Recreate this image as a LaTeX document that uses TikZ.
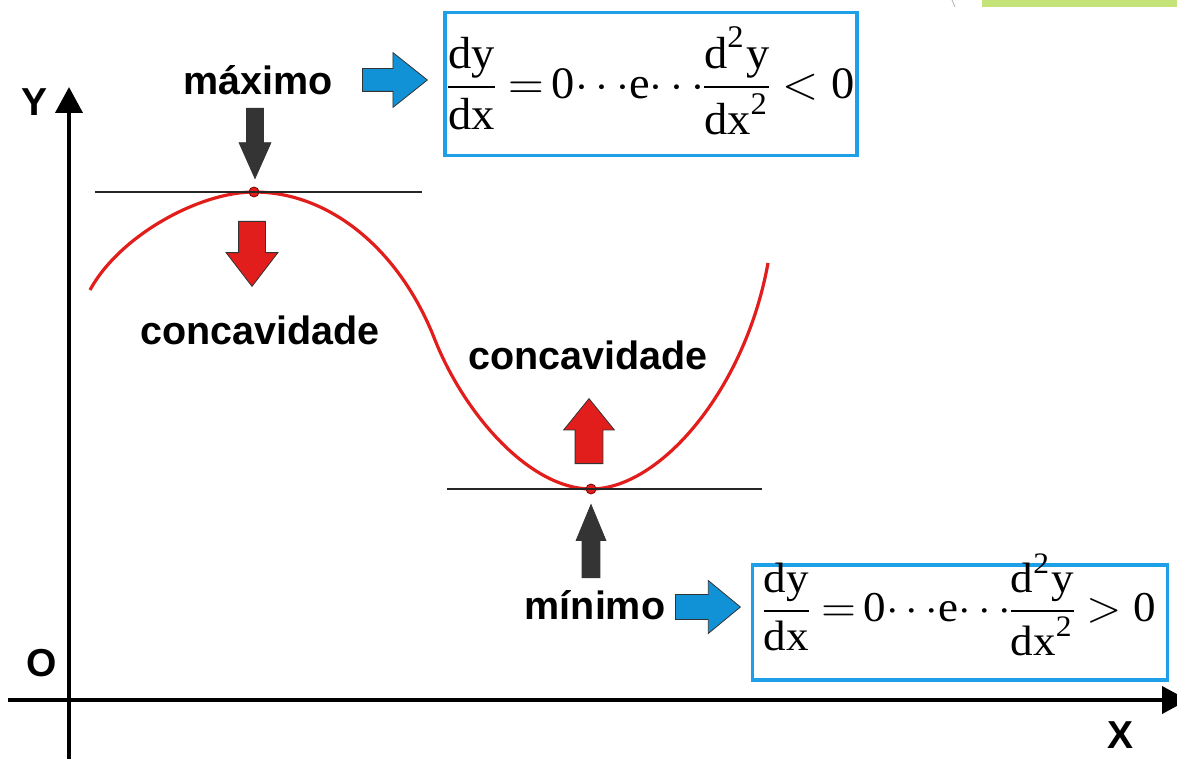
\documentclass[tikz,border=0pt]{standalone}
\usepackage{amsmath}
\usepackage{graphicx}
\usepackage{fontspec}
\setmainfont{Liberation Serif}
\setsansfont{Liberation Sans}
\usepackage{tikz}
\usetikzlibrary{arrows.meta,shapes.arrows}
\definecolor{curveclr}{RGB}{226,30,28}
\definecolor{ptrgray}{RGB}{52,52,52}
\definecolor{ptrblue}{RGB}{18,146,214}
\definecolor{boxblue}{RGB}{30,160,232}
\definecolor{slidegreen}{RGB}{196,228,122}
% #1,#2 = horizontal/vertical scale, #3 = relation
\newcommand{\condfrac}[3]{\scalebox{#1}[#2]{\nulldelimiterspace=0pt$\displaystyle
  \frac{\text{dy}}{\text{dx}}\;{=}\,\text{0}{\cdots}\text{e}{\cdots}
  \frac{\text{d}^{\text{2}}\text{y}}{\text{dx}^{\text{2}}}#3\text{0}$}}
\tikzset{
  axis/.style={line width=4pt,-{Triangle[length=26pt,width=27pt]}},
  axislbl/.style={font=\sffamily\bfseries\fontsize{39}{40}\selectfont,inner sep=0pt},
  lbl/.style={font=\sffamily\bfseries\fontsize{39.5}{40}\selectfont,inner sep=0pt},
  tangent/.style={line width=1.3pt,black!85},
  fcurve/.style={curveclr,line width=3.2pt},
  extremum/.style={circle,fill=curveclr,draw=red!50!black,line width=0.8pt,
                   minimum size=10pt,inner sep=0pt},
  blockarr/.style={single arrow,draw=black!80,line width=0.8pt,inner xsep=0pt,
                   anchor=tail},
  condbox/.style={draw=boxblue,line width=3.5pt,inner sep=0pt},
  cond/.style={inner sep=0pt},
}

\begin{document}
\begin{tikzpicture}[x=1pt, y=-1pt]
\useasboundingbox (0,0) rectangle (1177,759);
\clip (0,0) rectangle (1177,759);

% slide corner
\fill[slidegreen] (982,0) rectangle (1177,7);
\draw[gray!60,line width=0.8pt] (952,0) -- (955,7);

% axes
\coordinate (ybot) at (69,759);
\coordinate (ytip) at (69,87);
\coordinate (xleft) at (8,700);
\coordinate (xtip) at (1188,700);
\draw[axis] (ybot) -- (ytip);
\draw[axis] (xleft) -- (xtip);
\node[axislbl] (ylbl) at (35,102) {Y};
\node[axislbl] (olbl) at (42,663) {O};
\node[axislbl] (xlbl) at (1120,735) {X};

% the curve
\coordinate (top) at (254,192);
\coordinate (bend) at (435,340);
\coordinate (bottom) at (591,489);
\draw[fcurve] (90,290) .. controls (120,235) and (200,192) .. (top)
  .. controls (330,192) and (400,250) .. (bend)
  .. controls (465,415) and (530,489) .. (bottom)
  .. controls (660,489) and (745,390) .. (768,263);

% extrema and tangents
\node[extremum] (maxpt) at (top) {};
\node[extremum] (minpt) at (bottom) {};
\draw[tangent] ([xshift=-159pt]maxpt.center) -- ([xshift=168pt]maxpt.center);
\draw[tangent] ([xshift=-144pt]minpt.center) -- ([xshift=171pt]minpt.center);

% maximum
\node[lbl] (maxlbl) at (258,80) {máximo};
\node[blockarr,fill=ptrgray,rotate=-90,inner ysep=8pt,minimum height=70pt,minimum width=31pt,
      single arrow head extend=7.5pt,single arrow tip angle=48] (maxptr) at (255,108) {};
\node[blockarr,fill=curveclr,rotate=-90,inner ysep=13pt,minimum height=65pt,minimum width=51pt,
      single arrow head extend=12.5pt,single arrow tip angle=75] (maxconc) at (252,221) {};
\node[lbl] (maxconclbl) at (260,330) {concavidade};
\node[blockarr,fill=ptrblue,inner ysep=11pt,minimum height=65pt,minimum width=54pt,
      single arrow head extend=16pt,single arrow tip angle=77] (maxto) at (362,80) {};
\node[condbox,minimum width=412pt,minimum height=143pt] (maxbox) at (651,84) {};
\node[cond] (maxcond) at (651.5,81) {\condfrac{4.65}{4.5}{<}};

% minimum
\node[lbl] (minconclbl) at (588,355) {concavidade};
\node[blockarr,fill=curveclr,rotate=90,inner ysep=13.5pt,minimum height=65pt,minimum width=50pt,
      single arrow head extend=11.5pt,single arrow tip angle=78] (minconc) at (589,464) {};
\node[blockarr,fill=ptrgray,rotate=90,inner ysep=8.5pt,minimum height=73pt,minimum width=29pt,
      single arrow head extend=6pt,single arrow tip angle=45] (minptr) at (591,578) {};
\node[lbl] (minlbl) at (595,605) {mínimo};
\node[blockarr,fill=ptrblue,inner ysep=12pt,minimum height=65pt,minimum width=53pt,
      single arrow head extend=14pt,single arrow tip angle=79] (minto) at (675,607) {};
\node[condbox,minimum width=415pt,minimum height=115pt] (minbox) at (960,622.5) {};
\node[cond] (mincond) at (960,605) {\condfrac{4.5}{4.25}{>}};
\end{tikzpicture}
\end{document}
